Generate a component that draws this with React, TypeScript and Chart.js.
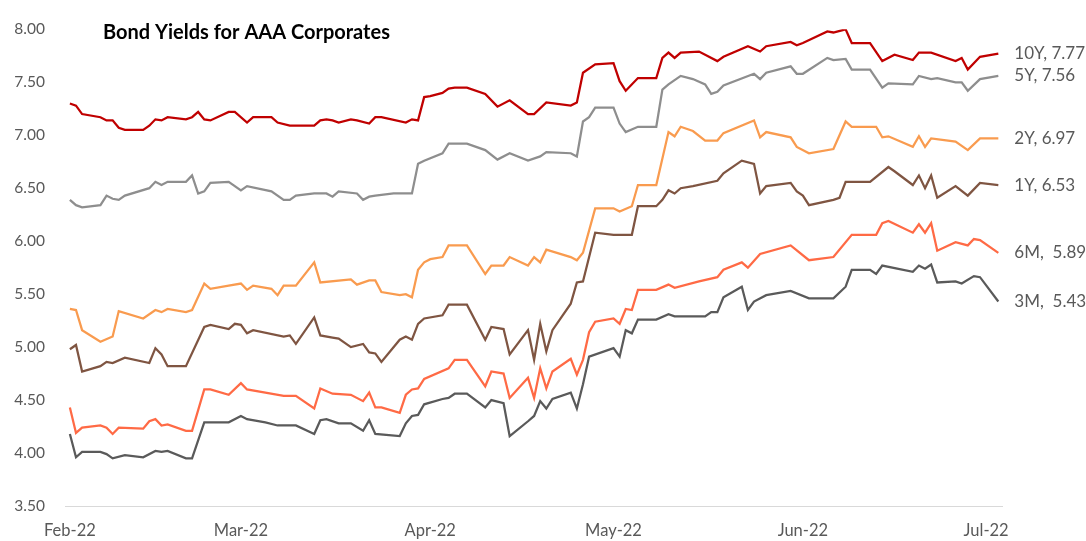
import React, { useEffect, useRef } from "react";
import { Chart, registerables } from "chart.js";

Chart.register(...registerables);

// x values are days counted from 1 Feb 2022
const monthStarts = [0, 28, 59, 89, 120, 150];
const monthLabels = ["Feb-22", "Mar-22", "Apr-22", "May-22", "Jun-22", "Jul-22"];
const yTicks = [3.5, 4.0, 4.5, 5.0, 5.5, 6.0, 6.5, 7.0, 7.5, 8.0];

const y10Days = [0, 1, 2, 5, 6, 7, 8, 9, 12, 13, 14, 15, 16, 19, 20, 21, 22, 23, 26, 27, 29, 30, 33, 34, 36, 40, 41, 42, 43, 44, 46, 47, 49, 50, 51, 55, 56, 57, 58, 59, 61, 62, 63, 65, 68, 70, 72, 75, 76, 78, 82, 83, 84, 86, 89, 90, 91, 93, 96, 97, 98, 99, 100, 103, 106, 107, 111, 113, 114, 118, 119, 120, 124, 125, 127, 128, 131, 133, 135, 138, 139, 141, 145, 146, 147, 149, 152];
const y10Vals = [7.30, 7.28, 7.20, 7.17, 7.14, 7.14, 7.07, 7.05, 7.05, 7.09, 7.15, 7.14, 7.17, 7.15, 7.17, 7.22, 7.15, 7.14, 7.22, 7.22, 7.12, 7.17, 7.17, 7.12, 7.09, 7.09, 7.14, 7.15, 7.14, 7.12, 7.15, 7.14, 7.11, 7.17, 7.17, 7.12, 7.15, 7.14, 7.36, 7.37, 7.40, 7.44, 7.45, 7.45, 7.39, 7.27, 7.33, 7.20, 7.20, 7.31, 7.28, 7.31, 7.59, 7.67, 7.68, 7.51, 7.42, 7.54, 7.54, 7.73, 7.78, 7.73, 7.78, 7.79, 7.70, 7.74, 7.84, 7.79, 7.84, 7.88, 7.85, 7.87, 7.98, 7.97, 8.00, 7.87, 7.87, 7.70, 7.76, 7.71, 7.78, 7.78, 7.70, 7.73, 7.62, 7.74, 7.77];

const y5Days = [0, 1, 2, 5, 6, 7, 8, 9, 13, 14, 15, 16, 19, 20, 21, 22, 23, 26, 28, 29, 33, 35, 36, 37, 40, 42, 43, 44, 47, 48, 49, 50, 53, 56, 57, 58, 61, 62, 65, 68, 70, 72, 75, 77, 78, 82, 83, 84, 85, 86, 89, 90, 91, 93, 96, 97, 98, 100, 102, 104, 105, 106, 107, 112, 113, 114, 118, 119, 120, 124, 125, 127, 128, 131, 133, 134, 138, 139, 141, 142, 145, 146, 147, 149, 152];
const y5Vals = [6.39, 6.34, 6.32, 6.34, 6.43, 6.40, 6.39, 6.43, 6.50, 6.56, 6.53, 6.56, 6.56, 6.62, 6.45, 6.47, 6.55, 6.56, 6.48, 6.52, 6.47, 6.39, 6.39, 6.43, 6.45, 6.45, 6.42, 6.47, 6.45, 6.39, 6.42, 6.43, 6.45, 6.45, 6.73, 6.76, 6.83, 6.92, 6.92, 6.86, 6.77, 6.83, 6.76, 6.80, 6.84, 6.83, 6.80, 7.13, 7.17, 7.26, 7.26, 7.11, 7.03, 7.08, 7.08, 7.43, 7.48, 7.56, 7.53, 7.48, 7.39, 7.41, 7.47, 7.58, 7.53, 7.59, 7.65, 7.58, 7.58, 7.73, 7.71, 7.72, 7.62, 7.62, 7.45, 7.49, 7.48, 7.56, 7.53, 7.54, 7.50, 7.50, 7.42, 7.53, 7.56];

const y2Days = [0, 1, 2, 5, 7, 8, 12, 14, 15, 16, 19, 20, 22, 23, 26, 28, 29, 30, 33, 34, 35, 37, 40, 41, 46, 47, 49, 50, 51, 54, 55, 56, 57, 58, 59, 61, 62, 65, 68, 69, 71, 72, 75, 76, 77, 78, 82, 83, 84, 86, 89, 90, 92, 93, 96, 98, 99, 100, 102, 104, 106, 107, 112, 113, 114, 118, 119, 121, 125, 127, 128, 132, 133, 134, 138, 139, 140, 141, 145, 147, 149, 152];
const y2Vals = [5.36, 5.35, 5.16, 5.05, 5.10, 5.34, 5.27, 5.35, 5.33, 5.36, 5.33, 5.35, 5.60, 5.55, 5.58, 5.60, 5.54, 5.58, 5.55, 5.49, 5.58, 5.58, 5.80, 5.61, 5.64, 5.59, 5.63, 5.63, 5.52, 5.49, 5.50, 5.47, 5.73, 5.80, 5.83, 5.85, 5.96, 5.96, 5.69, 5.77, 5.77, 5.85, 5.77, 5.85, 5.80, 5.92, 5.85, 5.82, 5.89, 6.31, 6.31, 6.28, 6.33, 6.53, 6.53, 7.03, 6.99, 7.08, 7.04, 6.95, 6.95, 7.02, 7.14, 6.98, 7.03, 6.98, 6.89, 6.83, 6.87, 7.13, 7.08, 7.08, 6.98, 6.99, 6.89, 6.99, 6.89, 6.97, 6.94, 6.86, 6.97, 6.97];

const y1Days = [0, 1, 2, 5, 6, 7, 9, 13, 14, 15, 16, 19, 22, 23, 26, 27, 28, 29, 30, 35, 36, 37, 40, 41, 43, 44, 46, 48, 49, 50, 51, 54, 55, 56, 57, 58, 61, 62, 65, 68, 69, 71, 72, 75, 76, 77, 78, 79, 82, 83, 84, 86, 89, 92, 93, 96, 97, 98, 99, 100, 102, 106, 107, 110, 112, 113, 114, 118, 119, 120, 121, 125, 126, 127, 131, 134, 135, 138, 139, 140, 141, 142, 145, 147, 149, 152];
const y1Vals = [4.98, 5.02, 4.77, 4.82, 4.86, 4.85, 4.90, 4.85, 4.99, 4.93, 4.82, 4.82, 5.19, 5.21, 5.17, 5.22, 5.21, 5.13, 5.16, 5.10, 5.11, 5.03, 5.28, 5.11, 5.09, 5.08, 5.00, 5.03, 4.95, 4.94, 4.86, 5.07, 5.10, 5.07, 5.22, 5.27, 5.30, 5.40, 5.40, 5.07, 5.19, 5.17, 4.93, 5.16, 4.88, 5.22, 4.96, 5.16, 5.41, 5.61, 5.62, 6.08, 6.06, 6.06, 6.33, 6.33, 6.39, 6.48, 6.45, 6.50, 6.52, 6.57, 6.64, 6.76, 6.73, 6.45, 6.52, 6.55, 6.47, 6.43, 6.34, 6.39, 6.41, 6.56, 6.56, 6.70, 6.66, 6.53, 6.62, 6.50, 6.62, 6.41, 6.52, 6.43, 6.55, 6.53];

const m6Days = [0, 1, 2, 5, 6, 7, 8, 12, 13, 14, 15, 16, 19, 20, 22, 23, 26, 28, 29, 32, 35, 37, 40, 41, 43, 46, 48, 49, 50, 51, 54, 55, 56, 57, 58, 62, 63, 65, 68, 69, 71, 72, 75, 76, 77, 78, 79, 82, 83, 84, 85, 86, 89, 90, 91, 92, 93, 96, 98, 99, 103, 106, 107, 110, 111, 113, 118, 121, 125, 128, 132, 133, 134, 138, 139, 140, 141, 142, 145, 147, 148, 149, 152];
const m6Vals = [4.43, 4.19, 4.24, 4.26, 4.24, 4.18, 4.24, 4.23, 4.30, 4.32, 4.26, 4.27, 4.21, 4.21, 4.60, 4.60, 4.55, 4.66, 4.60, 4.57, 4.54, 4.54, 4.42, 4.61, 4.56, 4.55, 4.49, 4.57, 4.43, 4.43, 4.38, 4.55, 4.60, 4.61, 4.70, 4.80, 4.88, 4.88, 4.63, 4.77, 4.75, 4.52, 4.71, 4.52, 4.80, 4.61, 4.77, 4.89, 4.74, 4.88, 5.14, 5.24, 5.27, 5.22, 5.36, 5.35, 5.54, 5.54, 5.59, 5.56, 5.62, 5.66, 5.73, 5.80, 5.75, 5.88, 5.96, 5.82, 5.85, 6.06, 6.06, 6.17, 6.19, 6.08, 6.16, 6.08, 6.17, 5.91, 5.99, 5.96, 6.02, 6.01, 5.89];

const m3Days = [0, 1, 2, 5, 6, 7, 9, 12, 14, 15, 16, 19, 20, 22, 26, 28, 29, 32, 34, 37, 40, 41, 42, 44, 46, 48, 49, 50, 54, 55, 56, 57, 58, 61, 62, 63, 65, 68, 69, 71, 72, 75, 76, 77, 78, 79, 82, 83, 84, 85, 89, 90, 91, 92, 93, 96, 98, 99, 104, 105, 106, 107, 110, 111, 112, 114, 118, 121, 125, 127, 128, 131, 132, 133, 138, 139, 140, 141, 142, 145, 146, 148, 149, 152];
const m3Vals = [4.18, 3.96, 4.01, 4.01, 3.99, 3.95, 3.98, 3.96, 4.02, 4.01, 4.02, 3.95, 3.95, 4.29, 4.29, 4.35, 4.32, 4.29, 4.26, 4.26, 4.18, 4.31, 4.32, 4.28, 4.28, 4.21, 4.31, 4.18, 4.16, 4.28, 4.35, 4.36, 4.46, 4.51, 4.52, 4.56, 4.56, 4.43, 4.50, 4.47, 4.16, 4.30, 4.35, 4.49, 4.42, 4.51, 4.57, 4.42, 4.65, 4.91, 4.99, 4.91, 5.16, 5.13, 5.26, 5.26, 5.31, 5.29, 5.29, 5.33, 5.33, 5.47, 5.57, 5.35, 5.43, 5.49, 5.53, 5.46, 5.46, 5.57, 5.73, 5.73, 5.69, 5.77, 5.71, 5.77, 5.74, 5.78, 5.61, 5.62, 5.60, 5.67, 5.66, 5.43];

const seriesNames = ["10Y", "5Y", "2Y", "1Y", "6M", "3M"];
const seriesEndLabels = ["10Y, 7.77", "5Y, 7.56", "2Y, 6.97", "1Y, 6.53", "6M,  5.89", "3M,  5.43"];
const seriesColors = ["#C00000", "#8E8E8E", "#F99B4F", "#7F5542", "#FF6A45", "#5A5A5A"];
const chartTitle = "Bond Yields for AAA Corporates";

const FONT = "Lato, 'Liberation Sans', sans-serif";

export default function App() {
  const canvasRef = useRef<HTMLCanvasElement | null>(null);

  useEffect(() => {
    const canvas = canvasRef.current;
    if (!canvas) return;
    const daySets = [y10Days, y5Days, y2Days, y1Days, m6Days, m3Days];
    const valSets = [y10Vals, y5Vals, y2Vals, y1Vals, m6Vals, m3Vals];

    const datasets = seriesNames.map((name, i) => ({
      label: name,
      data: daySets[i].map((d, j) => ({ x: d, y: valSets[i][j] })),
      borderColor: seriesColors[i],
      backgroundColor: seriesColors[i],
      borderWidth: 2.25,
      pointRadius: 0,
      tension: 0,
      fill: false,
    }));

    const overlay = {
      id: "overlay",
      afterDatasetsDraw(chart: any) {
        const ctx = chart.ctx;
        ctx.save();
        // title
        ctx.font = `bold 20px ${FONT}`;
        ctx.fillStyle = "#000000";
        ctx.textAlign = "left";
        ctx.textBaseline = "middle";
        ctx.fillText(chartTitle, chart.chartArea.left + 38, 33);
        // end labels
        ctx.font = `17px ${FONT}`;
        ctx.fillStyle = "#595959";
        chart.data.datasets.forEach((ds: any, i: number) => {
          const meta = chart.getDatasetMeta(i);
          const last = meta.data[meta.data.length - 1];
          if (!last) return;
          ctx.fillText(seriesEndLabels[i], last.x + 16, last.y);
        });
        ctx.restore();
      },
    };

    const chart = new Chart(canvas, {
      type: "line",
      data: { datasets },
      options: {
        animation: false,
        responsive: false,
        maintainAspectRatio: false,
        layout: { padding: { left: 0, right: 84, top: 24, bottom: 0 } },
        plugins: {
          legend: { display: false },
          tooltip: { enabled: false },
          title: { display: false },
        },
        scales: {
          x: {
            type: "linear",
            min: -0.8,
            max: 152.6,
            afterBuildTicks: (scale: any) => {
              scale.ticks = monthStarts.map((v) => ({ value: v }));
            },
            afterFit: (scale: any) => {
              scale.height = 35;
            },
            ticks: {
              autoSkip: false,
              maxRotation: 0,
              padding: 15,
              color: "#595959",
              font: { family: FONT, size: 16.5 },
              callback: (v: any) => {
                const idx = monthStarts.indexOf(Number(v));
                return idx >= 0 ? monthLabels[idx] : "";
              },
            },
            grid: { display: false, drawTicks: false },
            border: { display: true, color: "#D9D9D9", width: 1 },
          },
          y: {
            type: "linear",
            min: 3.5,
            max: 8,
            afterBuildTicks: (scale: any) => {
              scale.ticks = yTicks.map((v) => ({ value: v }));
            },
            afterFit: (scale: any) => {
              scale.width = 65;
            },
            ticks: {
              padding: 20,
              color: "#595959",
              font: { family: FONT, size: 15.5 },
              callback: (v: any) => Number(v).toFixed(2),
            },
            grid: { display: false, drawTicks: false },
            border: { display: false },
          },
        },
      },
      plugins: [overlay],
    } as any);

    return () => chart.destroy();
  }, []);

  return (
    <div style={{ position: "absolute", left: 0, top: 0, width: 1086, height: 541, background: "#ffffff" }}>
      <canvas ref={canvasRef} width={1086} height={541} style={{ width: 1086, height: 541, display: "block" }} />
    </div>
  );
}
